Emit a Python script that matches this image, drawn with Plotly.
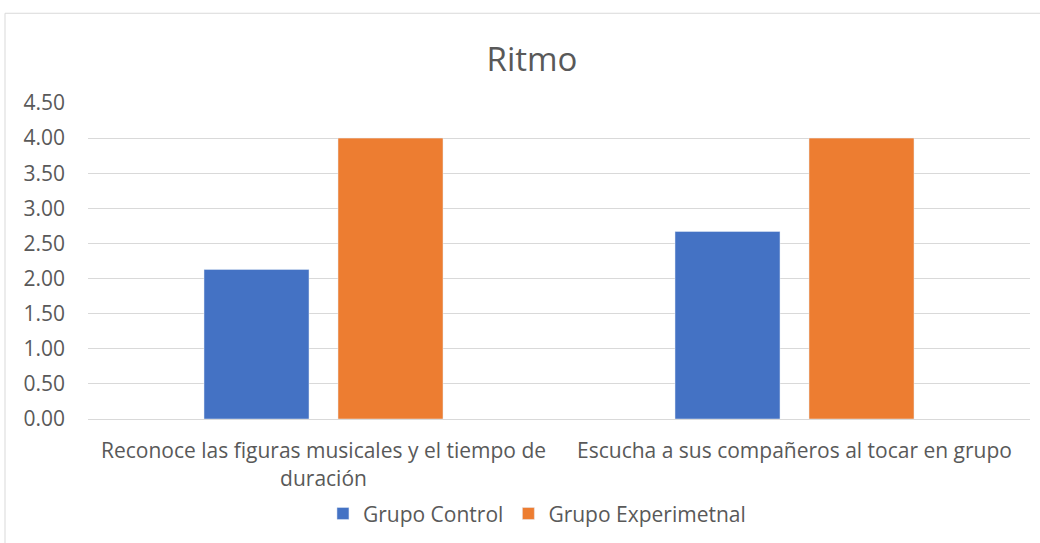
import plotly.graph_objects as go

categories = ["Reconoce las figuras musicales y el tiempo de<br>duración",
              "Escucha a sus compañeros al tocar en grupo"]
control = [2.13, 2.67]
experimental = [4.00, 4.00]
tick_vals = [0, 0.5, 1, 1.5, 2, 2.5, 3, 3.5, 4, 4.5]

fig = go.Figure()
fig.add_trace(go.Bar(name="Grupo Control", x=categories, y=control, marker_color="#4472C4"))
fig.add_trace(go.Bar(name="Grupo Experimetnal", x=categories, y=experimental, marker_color="#ED7D31"))

font_family = "Open Sans, Liberation Sans, sans-serif"
fig.update_layout(
    width=1040, height=543,
    margin=dict(l=88, r=10, t=103, b=123),
    paper_bgcolor="white", plot_bgcolor="white",
    barmode="group", bargap=0.431, bargroupgap=0.2164,
    title=dict(text="Ritmo", x=0.4713, xref="paper", xanchor="center", y=0.89, yanchor="middle",
               font=dict(family=font_family, size=33, color="#595959")),
    font=dict(family=font_family, size=21, color="#595959"),
    legend=dict(orientation="h", x=0.4766, xanchor="center", y=-0.296, yanchor="middle",
                font=dict(size=21, color="#595959"), itemwidth=30, traceorder="normal"),
    showlegend=True,
)
fig.update_yaxes(range=[0, 4.5], tickvals=tick_vals, ticktext=[f"{v:.2f}" for v in tick_vals],
                 showgrid=True, gridcolor="#D9D9D9", gridwidth=1, zeroline=False,
                 showline=False, ticklabelstandoff=22, tickfont=dict(size=21, color="#595959"))
fig.update_xaxes(showline=True, linecolor="#D9D9D9", linewidth=1, ticks="",
                 ticklabelstandoff=13, tickfont=dict(size=21, color="#595959"))
fig.add_shape(type="rect", xref="paper", yref="paper", x0=-0.0881, y0=-0.6, x1=1.05, y1=1.284,
              line=dict(color="#D9D9D9", width=1), fillcolor="rgba(0,0,0,0)", layer="below")
fig.write_html("out.html", config={"displayModeBar": False},
               post_script="document.body.style.margin='0';")
